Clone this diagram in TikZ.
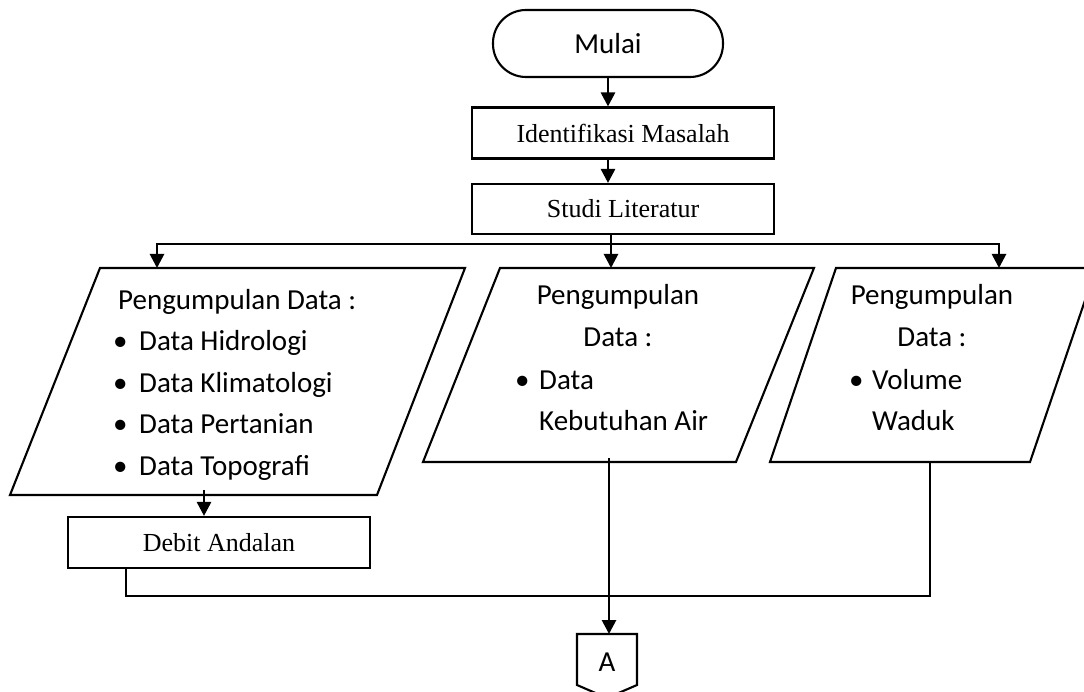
\documentclass[tikz,border=0pt]{standalone}
\usepackage{fontspec}
\setmainfont{Liberation Serif}
\newfontfamily\calib{Carlito}
\usetikzlibrary{arrows.meta}
\newcommand\bul{\hspace*{-5pt}\makebox[26pt][l]{•}}
\begin{document}
\begin{tikzpicture}[x=1pt,y=-1pt,
  shp/.style={draw=black, line width=2.1pt},
  box/.style={shp, rectangle, inner sep=0pt, font=\fontsize{26}{30}\selectfont},
  conn/.style={line width=2.7pt},
  arr/.style={conn, -{Triangle[width=14pt,length=14pt]}},
  sans/.style={font=\calib\fontsize{29}{41.5}\selectfont, inner sep=0pt}
]
\useasboundingbox (0,0) rectangle (1084,692);
\clip (0,0) rectangle (1084,692);

% start / process boxes
\node[shp, rounded corners=33pt, minimum width=230pt, minimum height=67pt, sans] (mulai) at (608,43.5) {Mulai};
\node[box, minimum width=302pt, minimum height=51pt] (iden) at (623,133) {Identifikasi Masalah};
\node[box, minimum width=302pt, minimum height=50pt] (studi) at (623,209) {Studi Literatur};
\node[box, minimum width=302pt, minimum height=51pt] (debit) at (219,542.5) {Debit Andalan};

% parallelograms
\draw[shp] (100,268) -- (465,268) -- (377,495) -- (10,495) -- cycle;
\draw[shp] (500,268) -- (814,268) -- (736,462) -- (423,462) -- cycle;
\draw[shp] (836,268) -- (1096,268) -- (1030,462) -- (770,462) -- cycle;

% texts of parallelograms (anchor base = baseline of last line)
\node[sans, anchor=base west, align=left] (tL) at (118,475)
  {Pengumpulan Data :\\ \bul Data Hidrologi\\ \bul Data Klimatologi\\ \bul Data Pertanian\\ \bul Data Topografi};
\node[sans, anchor=base, align=center] (tMh) at (618,346.5) {Pengumpulan\\Data :};
\node[sans, anchor=base west, align=left] (tMl) at (515,430.5) {\makebox[24pt][l]{•}Data\\ \hspace*{24pt}Kebutuhan Air};
\node[sans, anchor=base, align=center] (tRh) at (932,346.5) {Pengumpulan\\Data :};
\node[sans, anchor=base west, align=left] (tRl) at (849,430.5) {\makebox[23pt][l]{•}Volume\\ \hspace*{23pt}Waduk};

% off-page connector
\draw[shp] (577,634) -- (637,634) -- (637,685) -- (607,698) -- (577,685) -- cycle;
\node[sans] (A) at (607,662) {A};
\coordinate (Atop) at (609,634);

% connection coordinates
\coordinate (split) at (611,244);
\coordinate (pLtop) at (157,268);
\coordinate (pMtop) at (611,268);
\coordinate (pRtop) at (999,268);
\coordinate (pLbot) at (204,490);
\coordinate (pMbot) at (609,458);
\coordinate (pRbot) at (930,462);
\coordinate (dOut) at (126,568);
\coordinate (merge) at (609,596);

% connectors
\draw[arr] (mulai.south) -- (mulai.south |- iden.north);
\draw[arr] (iden.south -| mulai.south) -- (studi.north -| mulai.south);
\draw[arr] (studi.south -| pMtop) -- (pMtop);
\draw[arr] (split) -| (pLtop);
\draw[arr] (split) -| (pRtop);
\draw[arr] (pLbot) -- (pLbot |- debit.north);
\draw[conn] (debit.south -| dOut) |- (pRbot |- merge) -- (pRbot);
\draw[arr] (pMbot) -- (Atop);
\end{tikzpicture}
\end{document}
